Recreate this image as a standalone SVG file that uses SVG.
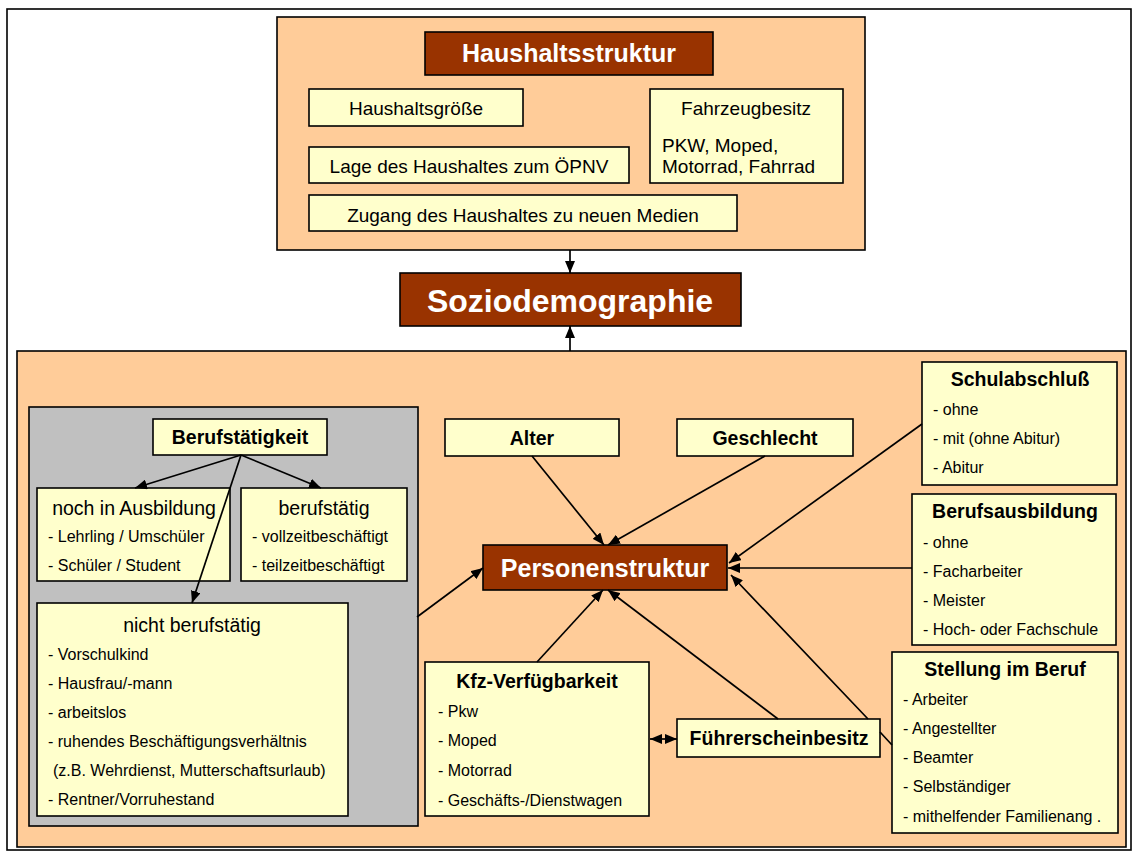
<svg xmlns="http://www.w3.org/2000/svg" width="1134" height="852" viewBox="0 0 1134 852">
  <defs>
    <marker id="ah" viewBox="0 0 12 10" refX="12" refY="5" markerWidth="12" markerHeight="10" markerUnits="userSpaceOnUse" orient="auto-start-reverse">
      <path d="M0,0 L12,5 L0,10 z" fill="#000"/>
    </marker>
    <style>
      .frame { fill: #fff; stroke: #000; stroke-width: 1.6; }
      .panel { fill: #FFCC99; stroke: #000; stroke-width: 1.6; }
      .grey { fill: #C0C0C0; stroke: #000; stroke-width: 1.6; }
      .box { fill: #FFFFCC; stroke: #000; stroke-width: 1.6; }
      .head { fill: #993300; stroke: #000; stroke-width: 1.6; }
      text { font-family: "Liberation Sans", Arial, sans-serif; fill: #000; }
      .t19 { font-size: 19px; }
      .t195 { font-size: 19.5px; }
      .b19 { font-size: 19.5px; font-weight: bold; }
      .it { font-size: 16px; }
      .hw { fill: #fff; font-weight: bold; }
      .mid { text-anchor: middle; }
      .con { stroke: #000; stroke-width: 1.7; fill: none; }
    </style>
  </defs>

  <!-- outer frame -->
  <rect class="frame" x="7" y="9" width="1124" height="841"/>

  <!-- household block -->
  <g id="haushalt">
    <rect class="panel" x="277" y="17" width="588" height="233"/>
    <g id="haushaltsstruktur">
      <rect class="head" x="425" y="32" width="288" height="43"/>
      <text class="hw mid" x="569" y="62" font-size="25">Haushaltsstruktur</text>
    </g>
    <g id="haushaltsgroesse">
      <rect class="box" x="309" y="89" width="214" height="37"/>
      <text class="t19 mid" x="416" y="115">Haushaltsgröße</text>
    </g>
    <g id="lage">
      <rect class="box" x="309" y="147" width="320" height="36"/>
      <text class="t19 mid" x="469" y="173">Lage des Haushaltes zum ÖPNV</text>
    </g>
    <g id="fahrzeugbesitz">
      <rect class="box" x="650" y="89" width="193" height="94"/>
      <text class="t19 mid" x="746" y="115">Fahrzeugbesitz</text>
      <text class="t19" x="662" y="152">PKW, Moped,</text>
      <text class="t19" x="662" y="173">Motorrad, Fahrrad</text>
    </g>
    <g id="zugang">
      <rect class="box" x="309" y="195" width="428" height="36"/>
      <text class="t19 mid" x="523" y="222">Zugang des Haushaltes zu neuen Medien</text>
    </g>
  </g>

  <!-- central node -->
  <g id="soziodemographie">
    <rect class="head" x="400" y="273" width="341" height="53"/>
    <text class="hw mid" x="570" y="312" font-size="32">Soziodemographie</text>
  </g>

  <!-- person block -->
  <g id="person">
    <rect class="panel" x="17" y="351" width="1109" height="496"/>
  </g>

  <g id="erwerb">
    <rect class="grey" x="29" y="407" width="389" height="419"/>
  </g>

  <g id="berufstaetigkeit">
    <rect class="box" x="153" y="419" width="174" height="36"/>
    <text class="b19 mid" x="240" y="444">Berufstätigkeit</text>
  </g>
  <g id="ausbildung">
    <rect class="box" x="37" y="488" width="193" height="93"/>
    <text class="t195 mid" x="134" y="515">noch in Ausbildung</text>
    <text class="it" x="48" y="542">- Lehrling / Umschüler</text>
    <text class="it" x="48" y="571">- Schüler / Student</text>
  </g>
  <g id="berufstaetig">
    <rect class="box" x="241" y="488" width="166" height="93"/>
    <text class="t195 mid" x="324" y="515">berufstätig</text>
    <text class="it" x="252" y="542">- vollzeitbeschäftigt</text>
    <text class="it" x="252" y="571">- teilzeitbeschäftigt</text>
  </g>
  <g id="nicht-berufstaetig">
    <rect class="box" x="37" y="603" width="311" height="213"/>
    <text class="t195 mid" x="192" y="632">nicht berufstätig</text>
    <text class="it" x="48" y="660">- Vorschulkind</text>
    <text class="it" x="48" y="689">- Hausfrau/-mann</text>
    <text class="it" x="48" y="718">- arbeitslos</text>
    <text class="it" x="48" y="747">- ruhendes Beschäftigungsverhältnis</text>
    <text class="it" x="53" y="776">(z.B. Wehrdienst, Mutterschaftsurlaub)</text>
    <text class="it" x="48" y="805">- Rentner/Vorruhestand</text>
  </g>

  <g id="alter">
    <rect class="box" x="445" y="419" width="174" height="37"/>
    <text class="b19 mid" x="532" y="445">Alter</text>
  </g>
  <g id="geschlecht">
    <rect class="box" x="677" y="419" width="176" height="37"/>
    <text class="b19 mid" x="765" y="445">Geschlecht</text>
  </g>
  <g id="personenstruktur">
    <rect class="head" x="483" y="545" width="244" height="45"/>
    <text class="hw mid" x="605" y="577" font-size="25">Personenstruktur</text>
  </g>
  <g id="schulabschluss">
    <rect class="box" x="922" y="362" width="195" height="123"/>
    <text class="b19 mid" x="1020" y="386">Schulabschluß</text>
    <text class="it" x="933" y="415">- ohne</text>
    <text class="it" x="933" y="444">- mit (ohne Abitur)</text>
    <text class="it" x="933" y="473">- Abitur</text>
  </g>
  <g id="berufsausbildung">
    <rect class="box" x="912" y="494" width="204" height="151"/>
    <text class="b19 mid" x="1015" y="518">Berufsausbildung</text>
    <text class="it" x="923" y="548">- ohne</text>
    <text class="it" x="923" y="577">- Facharbeiter</text>
    <text class="it" x="923" y="606">- Meister</text>
    <text class="it" x="923" y="635">- Hoch- oder Fachschule</text>
  </g>
  <g id="stellung">
    <rect class="box" x="892" y="652" width="226" height="181"/>
    <text class="b19 mid" x="1005" y="676">Stellung im Beruf</text>
    <text class="it" x="903" y="705">- Arbeiter</text>
    <text class="it" x="903" y="734">- Angestellter</text>
    <text class="it" x="903" y="763">- Beamter</text>
    <text class="it" x="903" y="792">- Selbständiger</text>
    <text class="it" x="903" y="822">- mithelfender Familienang .</text>
  </g>
  <g id="kfz">
    <rect class="box" x="425" y="662" width="224" height="154"/>
    <text class="b19 mid" x="537" y="688">Kfz-Verfügbarkeit</text>
    <text class="it" x="438" y="717">- Pkw</text>
    <text class="it" x="438" y="746">- Moped</text>
    <text class="it" x="438" y="776">- Motorrad</text>
    <text class="it" x="438" y="806">- Geschäfts-/Dienstwagen</text>
  </g>
  <g id="fuehrerschein">
    <rect class="box" x="677" y="719" width="203" height="38"/>
    <text class="b19 mid" x="779" y="745">Führerscheinbesitz</text>
  </g>

  <!-- connectors -->
  <g id="connectors" class="con">
    <line x1="570" y1="250" x2="570" y2="273" marker-end="url(#ah)"/>
    <line x1="570" y1="351" x2="570" y2="326" marker-end="url(#ah)"/>
    <line x1="241" y1="455" x2="135" y2="488" marker-end="url(#ah)"/>
    <line x1="241" y1="455" x2="321" y2="488" marker-end="url(#ah)"/>
    <line x1="241" y1="455" x2="192" y2="603" marker-end="url(#ah)"/>
    <line x1="417" y1="617" x2="483" y2="568" marker-end="url(#ah)"/>
    <line x1="532" y1="456" x2="604" y2="545" marker-end="url(#ah)"/>
    <line x1="765" y1="456" x2="608" y2="545" marker-end="url(#ah)"/>
    <line x1="922" y1="424" x2="729" y2="563" marker-end="url(#ah)"/>
    <line x1="912" y1="568" x2="728" y2="568" marker-end="url(#ah)"/>
    <path d="M892,745 L880,732 M868,719 L731,575" marker-end="url(#ah)"/>
    <line x1="537" y1="662" x2="603" y2="590" marker-end="url(#ah)"/>
    <line x1="778" y1="719" x2="608" y2="590" marker-end="url(#ah)"/>
    <line x1="650" y1="739" x2="677" y2="739" marker-start="url(#ah)" marker-end="url(#ah)"/>
  </g>
</svg>
